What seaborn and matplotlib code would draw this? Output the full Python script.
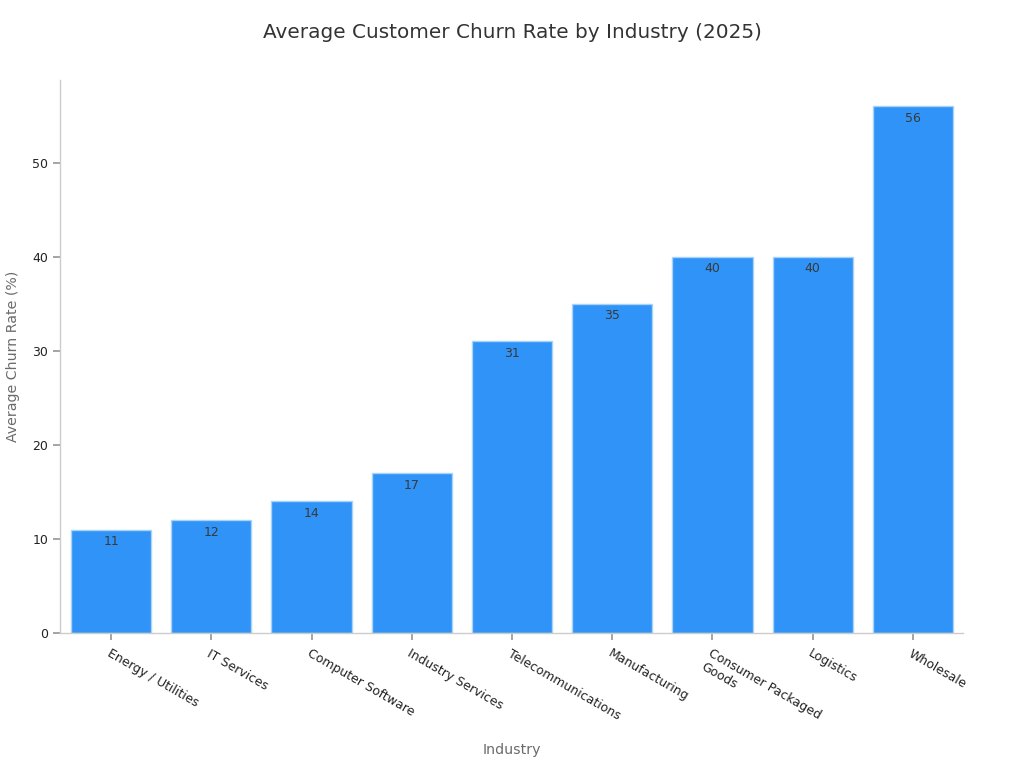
import matplotlib
matplotlib.use("Agg")
import matplotlib.pyplot as plt
import seaborn as sns
import pandas as pd

industries = ["Energy / Utilities", "IT Services", "Computer Software", "Industry Services",
              "Telecommunications", "Manufacturing", "Consumer Packaged\nGoods", "Logistics", "Wholesale"]
churn = [11, 12, 14, 17, 31, 35, 40, 40, 56]

df = pd.DataFrame({"Industry": industries, "Churn": churn})

sns.set_theme(style="white")
plt.rcParams['font.family'] = ['DejaVu Sans']

fig = plt.figure(figsize=(10.24, 7.68), dpi=100)
ax = fig.add_axes([0.0586, 0.1758, 0.8818, 0.72])

sns.barplot(data=df, x="Industry", y="Churn", color="#2f93f8", saturation=1,
            edgecolor="#a9d2f7", linewidth=1, width=0.8, ax=ax)

for i, v in enumerate(churn):
    ax.text(i, v - 0.6, f"{v}", ha="center", va="top", fontsize=9, color="#3a3a3a")

ax.set_xlim(-0.51, 8.5)
ax.set_ylim(0, 58.8)
ax.set_yticks([0, 10, 20, 30, 40, 50])

for s in ["top", "right"]:
    ax.spines[s].set_visible(False)
for s in ["left", "bottom"]:
    ax.spines[s].set_color("#cccccc")
    ax.spines[s].set_linewidth(1)

ax.tick_params(axis="both", which="both", length=5, color="#999999", labelsize=9,
               labelcolor="#222222", bottom=True, left=True)
ax.tick_params(axis="x", pad=5)
plt.setp(ax.get_xticklabels(), rotation=-30, ha="left", rotation_mode="anchor")

ax.set_xlabel("Industry", fontsize=10.2, color="#6b6b6b")
ax.set_ylabel("Average Churn Rate (%)", fontsize=10.2, color="#6b6b6b")
ax.xaxis.set_label_coords(0.5, -0.199)
ax.yaxis.set_label_coords(-0.044, 0.5)

fig.text(0.5, 1 - 33 / 768, "Average Customer Churn Rate by Industry (2025)",
         fontsize=14.4, color="#333333", ha="center", va="center")

fig.savefig("out.png", dpi=100)
